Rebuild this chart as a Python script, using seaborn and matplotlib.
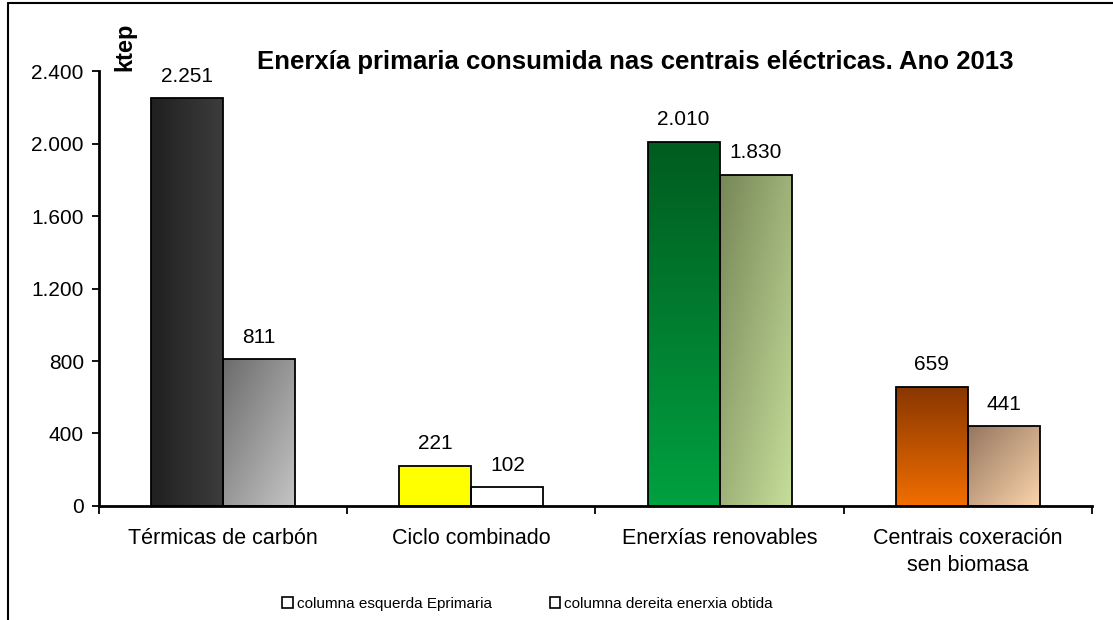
import numpy as np
import pandas as pd
import matplotlib
matplotlib.use("Agg")
import matplotlib.pyplot as plt
import matplotlib.colors as mcolors
from matplotlib.patches import Patch
from matplotlib.lines import Line2D
from matplotlib.ticker import FixedLocator, FuncFormatter
import seaborn as sns

categories = ["Térmicas de carbón", "Ciclo combinado", "Enerxías renovables",
              "Centrais coxeración\nsen biomasa"]
primaria = [2251, 221, 2010, 659]
obtida = [811, 102, 1830, 441]
series = ["columna esquerda Eprimaria", "columna dereita enerxia obtida"]

title = "Enerxía primaria consumida nas centrais eléctricas. Ano 2013"
unit = "ktep"
yticks = [0, 400, 800, 1200, 1600, 2000, 2400]

# gradient fills per bar: (start colour, end colour, direction)
fills_left = [("#202020", "#3c3c3c", "h"), ("#ffff00", "#ffff00", "h"),
              ("#005c20", "#00a040", "v"), ("#883600", "#f26e00", "v")]
fills_right = [("#6c6c6c", "#c4c4c4", "d"), ("#ffffff", "#ffffff", "h"),
               ("#778758", "#c6de9a", "d"), ("#967660", "#fad4aa", "d")]

df = pd.DataFrame({
    "categoria": categories * 2,
    "serie": [series[0]] * 4 + [series[1]] * 4,
    "valor": primaria + obtida,
})

sns.set_style("white")
plt.rcParams["font.family"] = ["Liberation Sans", "DejaVu Sans"]
plt.rcParams["text.color"] = "black"
plt.rcParams["xtick.color"] = "black"
plt.rcParams["ytick.color"] = "black"

fig = plt.figure(figsize=(11.13, 6.2), dpi=100)
ax = fig.add_axes([0.089, 0.184, 0.892, 0.701])

sns.barplot(data=df, x="categoria", y="valor", hue="serie", order=categories,
            hue_order=series, width=0.58, gap=0, dodge=True, ax=ax,
            edgecolor="black", linewidth=1.3, legend=False, errorbar=None)


def fill_gradient(patch, c0, c1, mode):
    x0, y0 = patch.get_x(), patch.get_y()
    w, h = patch.get_width(), patch.get_height()
    u = np.linspace(0, 1, 80)
    xx, yy = np.meshgrid(u, u)
    if mode == "h":
        t = xx
    elif mode == "v":
        t = yy
    else:
        t = (xx + yy) / 2
    a = np.array(mcolors.to_rgb(c0))
    b = np.array(mcolors.to_rgb(c1))
    img = a + t[..., None] * (b - a)
    im = ax.imshow(img, extent=(x0, x0 + w, y0, y0 + h), origin="upper",
                   aspect="auto", interpolation="bilinear",
                   zorder=patch.get_zorder() - 0.05)
    im.set_clip_path(patch)
    patch.set_facecolor("none")


for cont, fills in zip(ax.containers, [fills_left, fills_right]):
    for patch, (c0, c1, mode), val in zip(cont.patches, fills, cont.datavalues):
        fill_gradient(patch, c0, c1, mode)
        ax.annotate(f"{int(val):,}".replace(",", "."),
                    (patch.get_x() + patch.get_width() / 2, val),
                    xytext=(0, 9), textcoords="offset points",
                    ha="center", va="bottom", fontsize=15)

ax.set_xlim(-0.5, 3.5)
ax.set_ylim(0, 2400)
ax.yaxis.set_major_locator(FixedLocator(yticks))
ax.yaxis.set_major_formatter(FuncFormatter(lambda v, p: f"{int(v):,}".replace(",", ".")))
ax.xaxis.set_minor_locator(FixedLocator([-0.5, 0.5, 1.5, 2.5, 3.5]))
ax.tick_params(axis="y", which="major", direction="out", length=5, width=1.3,
               labelsize=15, pad=6, left=True)
ax.tick_params(axis="x", which="major", length=0, labelsize=15.5, pad=16)
ax.tick_params(axis="x", which="minor", direction="out", length=6, width=1.3,
               bottom=True)
for lab in ax.get_xticklabels():
    lab.set_linespacing(1.35)
ax.set_xlabel("")
ax.set_ylabel("")
for side in ["top", "right"]:
    ax.spines[side].set_visible(False)
for side in ["left", "bottom"]:
    ax.spines[side].set_linewidth(2)
    ax.spines[side].set_color("black")

fig.text(0.571, 0.9, title, ha="center", va="center", fontsize=18.5,
         fontweight="bold")
fig.text(0.112, 0.924, unit, rotation=90, ha="center", va="center",
         fontsize=17, fontweight="bold")

handles = [Patch(facecolor="white", edgecolor="black", linewidth=1.2) for _ in series]
fig.legend(handles, series, loc="center", bbox_to_anchor=(0.474, 0.026), ncol=2,
           frameon=False, fontsize=11, handlelength=0.7, handleheight=0.7,
           handletextpad=0.25, columnspacing=3.8, borderpad=0)

# outer frame (left and top edges visible)
fig.add_artist(Line2D([8 / 1113, 8 / 1113], [0, 1 - 3 / 620], transform=fig.transFigure,
                      color="black", linewidth=1.5))
fig.add_artist(Line2D([8 / 1113, 1], [1 - 3 / 620, 1 - 3 / 620], transform=fig.transFigure,
                      color="black", linewidth=1.5))

fig.savefig("out.png", dpi=100)
